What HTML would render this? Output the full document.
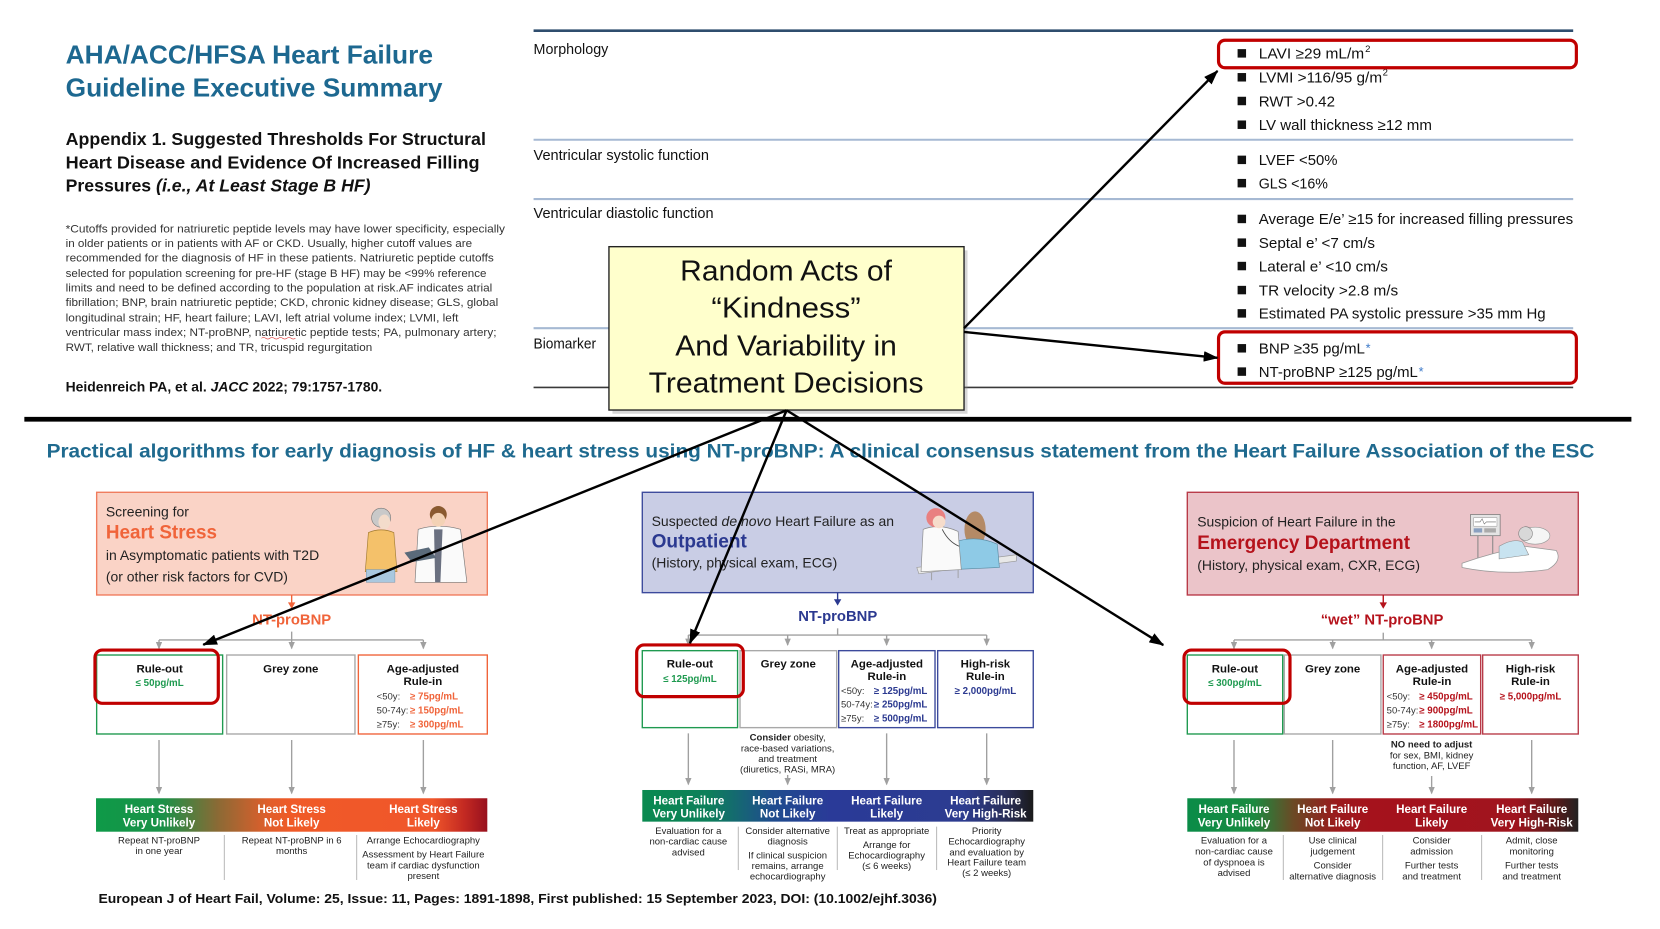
<!DOCTYPE html>
<html><head><meta charset="utf-8"><style>
html,body{margin:0;padding:0;background:#fff;overflow:hidden;}
svg{display:block;}
text{font-family:"Liberation Sans",Arial,sans-serif;}
</style></head><body>
<svg width="1660" height="929" viewBox="0 0 1568 877.5" preserveAspectRatio="none" xmlns="http://www.w3.org/2000/svg">
<defs>
<marker id="ah" markerWidth="14" markerHeight="10" refX="13" refY="5" orient="auto" markerUnits="userSpaceOnUse"><path d="M0,0 L14,5 L0,10 z" fill="#000"/></marker>
<marker id="ga" markerWidth="7" markerHeight="6" refX="6" refY="3" orient="auto" markerUnits="userSpaceOnUse"><path d="M0,0 L7,3 L0,6 z" fill="#a0a0a0"/></marker>
<linearGradient id="gL" x1="0" y1="0" x2="1" y2="0">
<stop offset="0" stop-color="#0e9a48"/><stop offset="0.17" stop-color="#1a9148"/><stop offset="0.31" stop-color="#8a6a35"/><stop offset="0.44" stop-color="#e05e2b"/><stop offset="0.5" stop-color="#f05a28"/><stop offset="0.86" stop-color="#f0562a"/><stop offset="0.94" stop-color="#c42a22"/><stop offset="1" stop-color="#98101e"/>
</linearGradient>
<linearGradient id="gM" x1="0" y1="0" x2="1" y2="0">
<stop offset="0" stop-color="#0a8a50"/><stop offset="0.17" stop-color="#0d7f5a"/><stop offset="0.33" stop-color="#1f4d8e"/><stop offset="0.48" stop-color="#2a3a98"/><stop offset="0.82" stop-color="#2c3c90"/><stop offset="0.93" stop-color="#2a2f5a"/><stop offset="1" stop-color="#1a1a1a"/>
</linearGradient>
<linearGradient id="gR" x1="0" y1="0" x2="1" y2="0">
<stop offset="0" stop-color="#0a8c48"/><stop offset="0.17" stop-color="#1a8a40"/><stop offset="0.27" stop-color="#6a4a25"/><stop offset="0.38" stop-color="#9a1a1c"/><stop offset="0.47" stop-color="#a5121c"/><stop offset="0.84" stop-color="#a0141e"/><stop offset="0.94" stop-color="#5a1a1a"/><stop offset="1" stop-color="#222"/>
</linearGradient>
</defs>

<!-- ===== TOP LEFT ===== -->
<text x="62" y="60" font-size="24.5" font-weight="bold" fill="#1d6890" textLength="347" lengthAdjust="spacingAndGlyphs">AHA/ACC/HFSA Heart Failure</text>
<text x="62" y="91" font-size="24.5" font-weight="bold" fill="#1d6890" textLength="356" lengthAdjust="spacingAndGlyphs">Guideline Executive Summary</text>

<text x="62" y="137" font-size="16.5" font-weight="bold" fill="#111" textLength="397" lengthAdjust="spacingAndGlyphs">Appendix 1. Suggested Thresholds For Structural</text>
<text x="62" y="159" font-size="16.5" font-weight="bold" fill="#111" textLength="391" lengthAdjust="spacingAndGlyphs">Heart Disease and Evidence Of Increased Filling</text>
<text x="62" y="181" font-size="16.5" font-weight="bold" fill="#111" textLength="288" lengthAdjust="spacingAndGlyphs">Pressures <tspan font-style="italic">(i.e., At Least Stage B HF)</tspan></text>

<g font-size="10" fill="#333">
<text x="62" y="219.5" textLength="415" lengthAdjust="spacingAndGlyphs">*Cutoffs provided for natriuretic peptide levels may have lower specificity, especially</text>
<text x="62" y="233.5" textLength="384" lengthAdjust="spacingAndGlyphs">in older patients or in patients with AF or CKD. Usually, higher cutoff values are</text>
<text x="62" y="247" textLength="404.5" lengthAdjust="spacingAndGlyphs">recommended for the diagnosis of HF in these patients. Natriuretic peptide cutoffs</text>
<text x="62" y="261.5" textLength="397.5" lengthAdjust="spacingAndGlyphs">selected for population screening for pre-HF (stage B HF) may be &lt;99% reference</text>
<text x="62" y="275.5" textLength="403" lengthAdjust="spacingAndGlyphs">limits and need to be defined according to the population at risk.AF indicates atrial</text>
<text x="62" y="289" textLength="408.6" lengthAdjust="spacingAndGlyphs">fibrillation; BNP, brain natriuretic peptide; CKD, chronic kidney disease; GLS, global</text>
<text x="62" y="303.5" textLength="371" lengthAdjust="spacingAndGlyphs">longitudinal strain; HF, heart failure; LAVI, left atrial volume index; LVMI, left</text>
<text x="62" y="317.5" textLength="407" lengthAdjust="spacingAndGlyphs">ventricular mass index; NT-proBNP, natriuretic peptide tests; PA, pulmonary artery;</text>
<text x="62" y="331.5" textLength="289.6" lengthAdjust="spacingAndGlyphs">RWT, relative wall thickness; and TR, tricuspid regurgitation</text>
</g>
<path d="M247,319.5 q2,-1.5 4,0 t4,0 t4,0 t4,0 t4,0 t4,0 t4,0 t4,0" fill="none" stroke="#d33" stroke-width="0.6"/>

<text x="62" y="370" font-size="13" font-weight="bold" fill="#111" textLength="299" lengthAdjust="spacingAndGlyphs">Heidenreich PA, et al. <tspan font-style="italic">JACC</tspan> 2022; 79:1757-1780.</text>

<!-- ===== TOP RIGHT TABLE ===== -->
<line x1="504" y1="29" x2="1486" y2="29" stroke="#2f4d6e" stroke-width="2.5"/>
<line x1="504" y1="132" x2="1486" y2="132" stroke="#a6b9d3" stroke-width="2"/>
<line x1="504" y1="188" x2="1486" y2="188" stroke="#a6b9d3" stroke-width="2"/>
<line x1="504" y1="310" x2="1486" y2="310" stroke="#a6b9d3" stroke-width="2"/>
<line x1="504" y1="366" x2="1486" y2="366" stroke="#3a3a3a" stroke-width="1.5"/>

<g font-size="13.5" fill="#111">
<text x="504" y="51" textLength="70.6" lengthAdjust="spacingAndGlyphs">Morphology</text>
<text x="504" y="151" textLength="165.7" lengthAdjust="spacingAndGlyphs">Ventricular systolic function</text>
<text x="504" y="206" textLength="170" lengthAdjust="spacingAndGlyphs">Ventricular diastolic function</text>
<text x="504" y="329" textLength="59" lengthAdjust="spacingAndGlyphs">Biomarker</text>
</g>

<g fill="#111">
<rect x="1169" y="46.4" width="8" height="8"/>
<rect x="1169" y="69" width="8" height="8"/>
<rect x="1169" y="91.4" width="8" height="8"/>
<rect x="1169" y="113.8" width="8" height="8"/>
<rect x="1169" y="147" width="8" height="8"/>
<rect x="1169" y="169" width="8" height="8"/>
<rect x="1169" y="202.8" width="8" height="8"/>
<rect x="1169" y="225.2" width="8" height="8"/>
<rect x="1169" y="247.3" width="8" height="8"/>
<rect x="1169" y="270" width="8" height="8"/>
<rect x="1169" y="292" width="8" height="8"/>
<rect x="1169" y="325" width="8" height="8"/>
<rect x="1169" y="347" width="8" height="8"/>
</g>
<g font-size="14" fill="#111">
<text x="1189" y="55.4" textLength="99.6" lengthAdjust="spacingAndGlyphs">LAVI ≥29 mL/m</text>
<text x="1289.5" y="49" font-size="9">2</text>
<text x="1189" y="78" textLength="116.5" lengthAdjust="spacingAndGlyphs">LVMI &gt;116/95 g/m</text>
<text x="1306" y="71.5" font-size="9">2</text>
<text x="1189" y="100.4" textLength="72" lengthAdjust="spacingAndGlyphs">RWT &gt;0.42</text>
<text x="1189" y="122.8" textLength="163.6" lengthAdjust="spacingAndGlyphs">LV wall thickness ≥12 mm</text>
<text x="1189" y="156" textLength="74.4" lengthAdjust="spacingAndGlyphs">LVEF &lt;50%</text>
<text x="1189" y="178" textLength="65.3" lengthAdjust="spacingAndGlyphs">GLS &lt;16%</text>
<text x="1189" y="211.8" textLength="297" lengthAdjust="spacingAndGlyphs">Average E/e’ ≥15 for increased filling pressures</text>
<text x="1189" y="234.2" textLength="109.8" lengthAdjust="spacingAndGlyphs">Septal e’ &lt;7 cm/s</text>
<text x="1189" y="256.3" textLength="122" lengthAdjust="spacingAndGlyphs">Lateral e’ &lt;10 cm/s</text>
<text x="1189" y="279" textLength="131.7" lengthAdjust="spacingAndGlyphs">TR velocity &gt;2.8 m/s</text>
<text x="1189" y="301" textLength="271" lengthAdjust="spacingAndGlyphs">Estimated PA systolic pressure &gt;35 mm Hg</text>
<text x="1189" y="334" textLength="100.3" lengthAdjust="spacingAndGlyphs">BNP ≥35 pg/mL</text>
<text x="1290" y="333" font-size="12" fill="#3a78c8">*</text>
<text x="1189" y="356" textLength="150.3" lengthAdjust="spacingAndGlyphs">NT-proBNP ≥125 pg/mL</text>
<text x="1340" y="355" font-size="12" fill="#3a78c8">*</text>
</g>

<rect x="1151" y="38" width="338" height="26" rx="6" fill="none" stroke="#c00000" stroke-width="3"/>
<rect x="1151" y="313.5" width="338" height="48.5" rx="6" fill="none" stroke="#c00000" stroke-width="3"/>

<!-- ===== YELLOW BOX ===== -->
<rect x="578.5" y="236.5" width="335.4" height="154.3" fill="#8a8a8a" opacity="0.35"/>
<rect x="575.2" y="233" width="335.4" height="154.3" fill="#ffffcc" stroke="#222" stroke-width="1.3"/>
<g font-size="27" fill="#111" text-anchor="middle">
<text x="742.5" y="265" textLength="200" lengthAdjust="spacingAndGlyphs">Random Acts of</text>
<text x="742.5" y="300" textLength="141" lengthAdjust="spacingAndGlyphs">“Kindness”</text>
<text x="742.5" y="336" textLength="209.4" lengthAdjust="spacingAndGlyphs">And Variability in</text>
<text x="742.5" y="370.6" textLength="259.7" lengthAdjust="spacingAndGlyphs">Treatment Decisions</text>
</g>

<!-- thick divider -->
<line x1="23" y1="396" x2="1541" y2="396" stroke="#000" stroke-width="4.5"/>

<text x="44" y="432" font-size="18" font-weight="bold" fill="#1f6a8f" textLength="1462" lengthAdjust="spacingAndGlyphs">Practical algorithms for early diagnosis of HF &amp; heart stress using NT-proBNP: A clinical consensus statement from the Heart Failure Association of the ESC</text>

<!-- ===== LEFT PANEL ===== -->
<rect x="91.3" y="465" width="369" height="97" fill="#fad3c6" stroke="#f07b5c" stroke-width="1.3"/>
<g font-size="13.2" fill="#222">
<text x="100" y="488">Screening for</text>
<text x="100" y="508.5" font-size="18" font-weight="bold" fill="#f0643a" textLength="105" lengthAdjust="spacingAndGlyphs">Heart Stress</text>
<text x="100" y="529" textLength="201.5" lengthAdjust="spacingAndGlyphs">in Asymptomatic patients with T2D</text>
<text x="100" y="549.5" textLength="172" lengthAdjust="spacingAndGlyphs">(or other risk factors for CVD)</text>
</g>
<!-- illustration left -->
<g>
<path d="M348,503 Q360,498 372,503 L375,540 L345,540 Z" fill="#f4c16a" stroke="#a07a30" stroke-width="0.6"/>
<rect x="346" y="538" width="27" height="12" fill="#a9c8df" stroke="#7a98b0" stroke-width="0.5"/>
<circle cx="360" cy="489" r="9" fill="#c9c9c9" stroke="#777" stroke-width="0.6"/>
<ellipse cx="363" cy="493" rx="5.5" ry="7" fill="#f3dccb"/>
<path d="M395,500 Q414,494 435,500 L441,550 L392,550 Z" fill="#fafafa" stroke="#777" stroke-width="0.6"/>
<path d="M410,500 L418,500 L416,550 L411,550 Z" fill="#6a7080"/>
<circle cx="414" cy="486" r="8" fill="#8a5a30"/>
<circle cx="414" cy="491" r="6.5" fill="#f3d2b5"/>
<polygon points="382,522 405,517 412,527 389,531" fill="#5a6a7a"/>
</g>
<line x1="275.5" y1="562" x2="275.5" y2="570" stroke="#f0643a" stroke-width="1.3"/>
<polygon points="272,569 279,569 275.5,575" fill="#f0643a"/>
<text x="275.5" y="590" font-size="14" font-weight="bold" fill="#f0643a" text-anchor="middle">NT-proBNP</text>
<g stroke="#a0a0a0" stroke-width="1.3" fill="none">
<line x1="275.5" y1="596.6" x2="275.5" y2="604.5"/>
<line x1="150.2" y1="604.5" x2="399.9" y2="604.5"/>
<line x1="150.2" y1="604.5" x2="150.2" y2="612.4" marker-end="url(#ga)"/>
<line x1="275.5" y1="604.5" x2="275.5" y2="612.4" marker-end="url(#ga)"/>
<line x1="399.9" y1="604.5" x2="399.9" y2="612.4" marker-end="url(#ga)"/>
<line x1="150.2" y1="699" x2="150.2" y2="749.3" marker-end="url(#ga)"/>
<line x1="275.5" y1="699" x2="275.5" y2="749.3" marker-end="url(#ga)"/>
<line x1="399.9" y1="699" x2="399.9" y2="749.3" marker-end="url(#ga)"/>
</g>
<rect x="91.3" y="618.7" width="119" height="74.6" fill="#fff" stroke="#1f9a50" stroke-width="1.3"/>
<rect x="214.1" y="618.7" width="121.2" height="74.6" fill="#fff" stroke="#a8a8a8" stroke-width="1.3"/>
<rect x="338.5" y="618.7" width="121.8" height="74.6" fill="#fff" stroke="#f0643a" stroke-width="1.3"/>
<g font-weight="bold" font-size="10.8" fill="#111" text-anchor="middle">
<text x="150.8" y="635">Rule-out</text>
<text x="274.7" y="635">Grey zone</text>
<text x="399.4" y="635">Age-adjusted</text>
<text x="399.4" y="647">Rule-in</text>
<text x="150.8" y="648" font-size="9.2" fill="#1f9a50">≤ 50pg/mL</text>
</g>
<g font-size="9" fill="#333">
<text x="355.8" y="660.5">&lt;50y:</text>
<text x="355.8" y="673.8">50-74y:</text>
<text x="355.8" y="687.4">≥75y:</text>
</g>
<g font-size="9.2" font-weight="bold" fill="#f0643a">
<text x="387.3" y="660.5">≥ 75pg/mL</text>
<text x="387.3" y="673.8">≥ 150pg/mL</text>
<text x="387.3" y="687.4">≥ 300pg/mL</text>
</g>
<rect x="89.7" y="614" width="116.5" height="50.3" rx="7" fill="none" stroke="#c00000" stroke-width="3"/>
<rect x="90.7" y="754" width="369.6" height="31.6" fill="url(#gL)"/>
<g font-size="11" font-weight="bold" fill="#fff" text-anchor="middle">
<text x="150.2" y="768">Heart Stress</text><text x="150.2" y="780.5">Very Unlikely</text>
<text x="275.5" y="768">Heart Stress</text><text x="275.5" y="780.5">Not Likely</text>
<text x="399.9" y="768">Heart Stress</text><text x="399.9" y="780.5">Likely</text>
</g>
<g font-size="9" fill="#222" text-anchor="middle">
<text x="150.2" y="796.6">Repeat NT-proBNP</text><text x="150.2" y="806.7">in one year</text>
<text x="275.5" y="796.6">Repeat NT-proBNP in 6</text><text x="275.5" y="806.7">months</text>
<text x="399.9" y="796.6">Arrange Echocardiography</text>
<text x="399.9" y="810.2">Assessment by Heart Failure</text>
<text x="399.9" y="820.2">team if cardiac dysfunction</text>
<text x="399.9" y="830.3">present</text>
</g>
<g stroke="#bbb" stroke-width="1">
<line x1="211.9" y1="788.7" x2="211.9" y2="831.2"/>
<line x1="336.9" y1="788.7" x2="336.9" y2="831.2"/>
</g>

<!-- ===== MIDDLE PANEL ===== -->
<rect x="606.7" y="465" width="369.3" height="94.8" fill="#c9cde5" stroke="#3c4a9c" stroke-width="1.3"/>
<g font-size="13.2" fill="#222">
<text x="615.5" y="496.8" textLength="229" lengthAdjust="spacingAndGlyphs">Suspected <tspan font-style="italic">de novo</tspan> Heart Failure as an</text>
<text x="615.5" y="517.3" font-size="18" font-weight="bold" fill="#2b3990" textLength="90" lengthAdjust="spacingAndGlyphs">Outpatient</text>
<text x="615.5" y="536.2" textLength="175.4" lengthAdjust="spacingAndGlyphs">(History, physical exam, ECG)</text>
</g>
<!-- illustration middle -->
<g>
<polygon points="866,536 960,524 960,530 868,542" fill="#e8e8e8" stroke="#999" stroke-width="0.6"/>
<line x1="880" y1="541" x2="880" y2="548" stroke="#999" stroke-width="0.8"/>
<line x1="905" y1="538" x2="905" y2="546" stroke="#999" stroke-width="0.8"/>
<ellipse cx="921" cy="500" rx="10" ry="17" fill="#b48a66"/>
<path d="M902,512 Q922,505 942,514 L944,536 L900,538 Z" fill="#8ecae6" stroke="#5a8aa0" stroke-width="0.6"/>
<path d="M872,500 Q888,494 905,502 L908,538 L870,540 Z" fill="#fafafa" stroke="#888" stroke-width="0.6"/>
<circle cx="884" cy="489" r="9" fill="#e98080"/>
<circle cx="887" cy="493" r="6" fill="#f6dccb"/>
<path d="M890,500 Q896,512 906,516" fill="none" stroke="#444" stroke-width="0.8"/>
</g>
<line x1="791.2" y1="559.8" x2="791.2" y2="567" stroke="#2b3990" stroke-width="1.3"/>
<polygon points="787.7,566 794.7,566 791.2,572" fill="#2b3990"/>
<text x="791.3" y="586.8" font-size="14" font-weight="bold" fill="#2b3990" text-anchor="middle">NT-proBNP</text>
<g stroke="#a0a0a0" stroke-width="1.3" fill="none">
<line x1="791.2" y1="593.5" x2="791.2" y2="599.8"/>
<line x1="650.2" y1="599.8" x2="932" y2="599.8"/>
<line x1="650.2" y1="599.8" x2="650.2" y2="609.2" marker-end="url(#ga)"/>
<line x1="744" y1="599.8" x2="744" y2="609.2" marker-end="url(#ga)"/>
<line x1="837.5" y1="599.8" x2="837.5" y2="609.2" marker-end="url(#ga)"/>
<line x1="932" y1="599.8" x2="932" y2="609.2" marker-end="url(#ga)"/>
<line x1="650.2" y1="692.7" x2="650.2" y2="740.8" marker-end="url(#ga)"/>
<line x1="744" y1="732" x2="744" y2="740.8" marker-end="url(#ga)"/>
<line x1="837.5" y1="692.7" x2="837.5" y2="740.8" marker-end="url(#ga)"/>
<line x1="932" y1="692.7" x2="932" y2="740.8" marker-end="url(#ga)"/>
</g>
<rect x="606.7" y="614.6" width="90" height="72.7" fill="#fff" stroke="#1f9a50" stroke-width="1.3"/>
<rect x="699" y="614.6" width="91.3" height="72.7" fill="#fff" stroke="#a8a8a8" stroke-width="1.3"/>
<rect x="792.2" y="614.6" width="91" height="72.7" fill="#fff" stroke="#3c4a9c" stroke-width="1.3"/>
<rect x="885.7" y="614.6" width="90.3" height="72.7" fill="#fff" stroke="#3c4a9c" stroke-width="1.3"/>
<g font-weight="bold" font-size="10.8" fill="#111" text-anchor="middle">
<text x="651.7" y="630.3">Rule-out</text>
<text x="744.6" y="630.3">Grey zone</text>
<text x="837.7" y="630.3">Age-adjusted</text>
<text x="837.7" y="642.2">Rule-in</text>
<text x="930.8" y="630.3">High-risk</text>
<text x="930.8" y="642.2">Rule-in</text>
<text x="651.7" y="644" font-size="9.2" fill="#1f9a50">≤ 125pg/mL</text>
<text x="930.8" y="655.6" font-size="9.2" fill="#2b3990">≥ 2,000pg/mL</text>
</g>
<g font-size="9" fill="#333">
<text x="794.4" y="655.6">&lt;50y:</text>
<text x="794.4" y="668.5">50-74y:</text>
<text x="794.4" y="681.7">≥75y:</text>
</g>
<g font-size="9.2" font-weight="bold" fill="#2b3990">
<text x="825.5" y="655.6">≥ 125pg/mL</text>
<text x="825.5" y="668.5">≥ 250pg/mL</text>
<text x="825.5" y="681.7">≥ 500pg/mL</text>
</g>
<rect x="601.4" y="609.2" width="100.7" height="48.8" rx="7" fill="none" stroke="#c00000" stroke-width="3"/>
<g font-size="9" fill="#222" text-anchor="middle">
<text x="744" y="699.6"><tspan font-weight="bold">Consider</tspan> obesity,</text>
<text x="744" y="710">race-based variations,</text>
<text x="744" y="719.8">and treatment</text>
<text x="744" y="729.6">(diuretics, RASi, MRA)</text>
</g>
<rect x="606.7" y="746.2" width="369.3" height="29.9" fill="url(#gM)"/>
<g font-size="11" font-weight="bold" fill="#fff" text-anchor="middle">
<text x="650.6" y="760">Heart Failure</text><text x="650.6" y="772">Very Unlikely</text>
<text x="744" y="760">Heart Failure</text><text x="744" y="772">Not Likely</text>
<text x="837.5" y="760">Heart Failure</text><text x="837.5" y="772">Likely</text>
<text x="931" y="760">Heart Failure</text><text x="931" y="772">Very High-Risk</text>
</g>
<g font-size="9" fill="#222" text-anchor="middle">
<text x="650.2" y="787.8">Evaluation for a</text><text x="650.2" y="797.9">non-cardiac cause</text><text x="650.2" y="808">advised</text>
<text x="744" y="787.8">Consider alternative</text><text x="744" y="797.9">diagnosis</text>
<text x="744" y="811.1">If clinical suspicion</text><text x="744" y="820.9">remains, arrange</text><text x="744" y="830.6">echocardiography</text>
<text x="837.5" y="787.8">Treat as appropriate</text><text x="837.5" y="801">Arrange for</text>
<text x="837.5" y="811.1">Echocardiography</text><text x="837.5" y="820.9">(≤  6 weeks)</text>
<text x="932" y="787.8">Priority</text><text x="932" y="797.9">Echocardiography</text><text x="932" y="808">and evaluation by</text>
<text x="932" y="817.7">Heart Failure team</text><text x="932" y="827.5">(≤ 2 weeks)</text>
</g>
<g stroke="#bbb" stroke-width="1">
<line x1="697.4" y1="780.8" x2="697.4" y2="821.8"/>
<line x1="790.9" y1="780.8" x2="790.9" y2="821.8"/>
<line x1="884.7" y1="780.8" x2="884.7" y2="821.8"/>
</g>

<!-- ===== RIGHT PANEL ===== -->
<rect x="1121.5" y="465" width="369.3" height="97" fill="#ebc4c9" stroke="#b83a48" stroke-width="1.3"/>
<g font-size="13.2" fill="#222">
<text x="1130.9" y="497.4" textLength="187.4" lengthAdjust="spacingAndGlyphs">Suspicion of Heart Failure in the</text>
<text x="1130.9" y="518.5" font-size="18" font-weight="bold" fill="#b5121b" textLength="201" lengthAdjust="spacingAndGlyphs">Emergency Department</text>
<text x="1130.9" y="538.4" textLength="210.4" lengthAdjust="spacingAndGlyphs">(History, physical exam, CXR, ECG)</text>
</g>
<!-- illustration right -->
<g>
<line x1="1396" y1="506" x2="1396" y2="530" stroke="#888" stroke-width="1"/>
<line x1="1410" y1="506" x2="1410" y2="530" stroke="#888" stroke-width="1"/>
<rect x="1389" y="486" width="28" height="20" fill="#e4e4e4" stroke="#777" stroke-width="0.7"/>
<rect x="1392" y="489" width="22" height="8" fill="#fff" stroke="#888" stroke-width="0.4"/>
<polyline points="1393,493 1398,493 1400,490 1402,495 1404,493 1413,493" fill="none" stroke="#666" stroke-width="0.5"/>
<rect x="1392" y="499" width="8" height="4" fill="#8aa0c0"/>
<rect x="1402" y="499" width="11" height="4" fill="#aaa"/>
<path d="M1381,532 Q1410,522 1440,516 L1470,520 Q1476,530 1462,538 Q1420,544 1381,536 Z" fill="#fff" stroke="#999" stroke-width="0.7"/>
<ellipse cx="1450" cy="506" rx="14" ry="8" fill="#f5f5f5" stroke="#999" stroke-width="0.6"/>
<path d="M1416,516 Q1430,508 1438,512 L1444,524 L1416,528 Z" fill="#c8e3f0" stroke="#888" stroke-width="0.5"/>
<circle cx="1441" cy="504" r="6.5" fill="#d8d8d8" stroke="#777" stroke-width="0.5"/>
</g>
<line x1="1306.6" y1="562" x2="1306.6" y2="570" stroke="#b5121b" stroke-width="1.3"/>
<polygon points="1303.1,569 1310.1,569 1306.6,575" fill="#b5121b"/>
<text x="1305.5" y="590" font-size="14" font-weight="bold" fill="#b5121b" text-anchor="middle">“wet” NT-proBNP</text>
<g stroke="#a0a0a0" stroke-width="1.3" fill="none">
<line x1="1306.6" y1="597.6" x2="1306.6" y2="604.5"/>
<line x1="1165.6" y1="604.5" x2="1446.8" y2="604.5"/>
<line x1="1165.6" y1="604.5" x2="1165.6" y2="612.4" marker-end="url(#ga)"/>
<line x1="1258.8" y1="604.5" x2="1258.8" y2="612.4" marker-end="url(#ga)"/>
<line x1="1352.3" y1="604.5" x2="1352.3" y2="612.4" marker-end="url(#ga)"/>
<line x1="1446.8" y1="604.5" x2="1446.8" y2="612.4" marker-end="url(#ga)"/>
<line x1="1165.6" y1="699" x2="1165.6" y2="749.3" marker-end="url(#ga)"/>
<line x1="1258.8" y1="699" x2="1258.8" y2="749.3" marker-end="url(#ga)"/>
<line x1="1352.3" y1="733" x2="1352.3" y2="749.3" marker-end="url(#ga)"/>
<line x1="1446.8" y1="699" x2="1446.8" y2="749.3" marker-end="url(#ga)"/>
</g>
<rect x="1121.5" y="618.7" width="90.1" height="74.6" fill="#fff" stroke="#1f9a50" stroke-width="1.3"/>
<rect x="1213.1" y="618.7" width="91.3" height="74.6" fill="#fff" stroke="#a8a8a8" stroke-width="1.3"/>
<rect x="1306.6" y="618.7" width="92" height="74.6" fill="#fff" stroke="#b83a48" stroke-width="1.3"/>
<rect x="1400.5" y="618.7" width="90.3" height="74.6" fill="#fff" stroke="#b83a48" stroke-width="1.3"/>
<g font-weight="bold" font-size="10.8" fill="#111" text-anchor="middle">
<text x="1166.5" y="635">Rule-out</text>
<text x="1258.8" y="635">Grey zone</text>
<text x="1352.6" y="635">Age-adjusted</text>
<text x="1352.6" y="647">Rule-in</text>
<text x="1445.7" y="635">High-risk</text>
<text x="1445.7" y="647">Rule-in</text>
<text x="1166.5" y="648" font-size="9.2" fill="#1f9a50">≤ 300pg/mL</text>
<text x="1445.7" y="660.5" font-size="9.2" fill="#b5121b">≥ 5,000pg/mL</text>
</g>
<g font-size="9" fill="#333">
<text x="1309.8" y="660.5">&lt;50y:</text>
<text x="1309.8" y="673.8">50-74y:</text>
<text x="1309.8" y="687.4">≥75y:</text>
</g>
<g font-size="9.2" font-weight="bold" fill="#b5121b">
<text x="1340.6" y="660.5">≥ 450pg/mL</text>
<text x="1340.6" y="673.8">≥ 900pg/mL</text>
<text x="1340.6" y="687.4">≥ 1800pg/mL</text>
</g>
<rect x="1118.4" y="614" width="100.1" height="50.3" rx="7" fill="none" stroke="#c00000" stroke-width="3"/>
<g font-size="9" fill="#222" text-anchor="middle">
<text x="1352.3" y="706" font-weight="bold">NO need to adjust</text>
<text x="1352.3" y="716.3">for sex, BMI, kidney</text>
<text x="1352.3" y="726.4">function, AF, LVEF</text>
</g>
<rect x="1121.5" y="754" width="369.3" height="31.6" fill="url(#gR)"/>
<g font-size="11" font-weight="bold" fill="#fff" text-anchor="middle">
<text x="1165.6" y="768">Heart Failure</text><text x="1165.6" y="780.5">Very Unlikely</text>
<text x="1258.8" y="768">Heart Failure</text><text x="1258.8" y="780.5">Not Likely</text>
<text x="1352.3" y="768">Heart Failure</text><text x="1352.3" y="780.5">Likely</text>
<text x="1446.8" y="768">Heart Failure</text><text x="1446.8" y="780.5">Very High-Risk</text>
</g>
<g font-size="9" fill="#222" text-anchor="middle">
<text x="1165.6" y="796.6">Evaluation for a</text><text x="1165.6" y="807">non-cardiac cause</text>
<text x="1165.6" y="817.4">of dyspnoea is</text><text x="1165.6" y="827.5">advised</text>
<text x="1258.8" y="796.6">Use clinical</text><text x="1258.8" y="807">judgement</text>
<text x="1258.8" y="820.2">Consider</text><text x="1258.8" y="830.6">alternative diagnosis</text>
<text x="1352.3" y="796.6">Consider</text><text x="1352.3" y="807">admission</text>
<text x="1352.3" y="820.2">Further tests</text><text x="1352.3" y="830.6">and treatment</text>
<text x="1446.8" y="796.6">Admit, close</text><text x="1446.8" y="807">monitoring</text>
<text x="1446.8" y="820.2">Further tests</text><text x="1446.8" y="830.6">and treatment</text>
</g>
<g stroke="#bbb" stroke-width="1">
<line x1="1212.2" y1="788.7" x2="1212.2" y2="831.2"/>
<line x1="1306" y1="788.7" x2="1306" y2="831.2"/>
<line x1="1399.5" y1="788.7" x2="1399.5" y2="831.2"/>
</g>

<!-- citation -->
<text x="93" y="853" font-size="12" font-weight="bold" fill="#111" textLength="792" lengthAdjust="spacingAndGlyphs">European J of Heart Fail, Volume: 25, Issue: 11, Pages: 1891-1898, First published: 15 September 2023, DOI: (10.1002/ejhf.3036)</text>

<!-- ===== BLACK ARROWS ===== -->
<g stroke="#000" stroke-width="2.3" fill="none">
<line x1="910.6" y1="310" x2="1150" y2="67" marker-end="url(#ah)"/>
<line x1="910.6" y1="313.5" x2="1150" y2="338" marker-end="url(#ah)"/>
<line x1="743" y1="387.5" x2="192" y2="609" marker-end="url(#ah)"/>
<line x1="743" y1="387.5" x2="651.7" y2="607.6" marker-end="url(#ah)"/>
<line x1="743" y1="387.5" x2="1098.8" y2="609.3" marker-end="url(#ah)"/>
</g>
</svg>
</body></html>
